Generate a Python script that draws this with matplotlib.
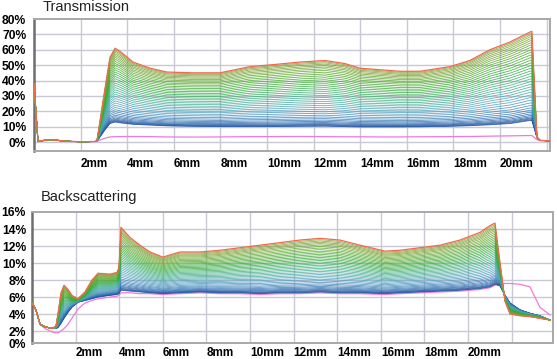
import numpy as np
import matplotlib

matplotlib.use("Agg")
import matplotlib.pyplot as plt
from matplotlib.colors import LinearSegmentedColormap

plt.rcParams["font.family"] = ["Liberation Sans", "DejaVu Sans"]

# ---- Transmission profiles (x in mm, values in %) ----
T_X = [0.0, 0.17, 0.34, 0.6, 0.9, 1.33, 2.0, 2.6, 2.7, 3.05, 3.26, 3.48, 3.69,
       4.25, 4.98, 5.7, 6.82, 7.98, 9.27, 10.04, 11.42, 12.49, 13.35, 13.99,
       14.85, 15.71, 16.57, 17.85, 18.71, 19.57, 20.43, 21.29, 21.37, 21.59,
       21.72, 22.23]
T_TOP = [38, 0.5, 0.8, 1.5, 1.3, 0.5, 0.2, 0.3, 0.5, 35, 55, 61, 59, 52, 48,
         45.5, 45, 45, 49, 50, 52, 53, 51, 48, 47, 46, 46, 49, 53, 60, 65,
         71.5, 72, 3, 1, 0.8]
T_BOT = [38, 0.5, 0.8, 1.5, 1.3, 0.5, 0.2, 0.3, 0.5, 8, 12, 13, 12.5, 11.5,
         11, 10.5, 10.2, 10, 10, 10, 10.2, 10.3, 10, 9.8, 9.8, 9.8, 9.9, 10.2,
         10.6, 11.2, 12, 14, 14, 3, 1, 0.8]
T_PINK = [38, 0.5, 0.8, 1.5, 1.3, 0.5, 0.2, 0.3, 0.5, 2.5, 3.3, 3.5, 3.5, 3.6,
          3.5, 3.3, 3.2, 3.3, 3.5, 3.5, 3.6, 3.5, 3.4, 3.4, 3.3, 3.3, 3.4,
          3.5, 3.6, 3.8, 4.0, 4.2, 4.2, 1.5, 1.0, 0.8]
T_REF = 19  # index of x = 10 mm
# level of each intermediate scan at 10 mm
T_LEVELS = [10.0, 10.3, 10.7, 11.1, 11.6, 12.2, 12.9, 13.7, 14.6, 15.6, 16.7,
            17.9, 19.1, 20.3, 21.5, 22.7, 23.9, 25.1, 26.3, 27.5, 28.7, 29.9,
            31.1, 32.3, 33.5, 34.7, 35.9, 37.1, 38.3, 39.5, 40.7, 41.8, 42.9,
            44.0, 45.0, 46.0, 46.9, 47.8, 48.6, 49.3]

# ---- Backscattering profiles ----
B_X = [0.0, 0.18, 0.37, 0.6, 0.92, 1.1, 1.19, 1.33, 1.47, 1.65, 1.83, 2.11,
       2.43, 2.75, 3.03, 3.58, 3.9, 3.99, 4.08, 4.5, 4.95, 5.41, 6.0, 6.79,
       7.71, 8.62, 9.54, 10.46, 11.38, 12.29, 13.21, 14.13, 15.05, 16.19,
       16.88, 17.8, 18.72, 19.63, 20.55, 21.01, 21.24, 21.47, 21.7, 21.93,
       22.39, 22.84, 23.3, 23.76]
B_TOP = [5.3, 4.5, 2.8, 2.5, 2.3, 2.6, 4.0, 6.5, 7.4, 6.9, 6.2, 5.8, 6.6, 8.0,
         8.8, 8.7, 8.9, 9.5, 14.2, 13.0, 12.1, 11.3, 10.7, 11.3, 11.3, 11.5,
         11.8, 12.1, 12.4, 12.7, 12.9, 12.7, 12.1, 11.4, 11.5, 11.8, 12.1,
         12.7, 13.6, 14.4, 14.7, 10.0, 5.5, 4.0, 3.8, 3.7, 3.5, 3.3]
B_BOT = [5.3, 4.5, 2.8, 2.5, 2.3, 2.3, 2.4, 2.9, 3.5, 4.2, 4.8, 5.4, 5.6, 5.8,
         6.0, 6.2, 6.3, 6.4, 6.8, 6.7, 6.6, 6.5, 6.4, 6.5, 6.6, 6.5, 6.5, 6.4,
         6.5, 6.5, 6.6, 6.5, 6.5, 6.4, 6.5, 6.6, 6.7, 6.8, 7.0, 7.2, 7.5, 7.3,
         6.2, 5.3, 4.5, 4.1, 3.8, 3.3]
B_PINK = [5.3, 4.5, 2.8, 2.3, 1.9, 1.8, 1.8, 2.0, 2.3, 2.8, 3.5, 4.6, 5.3,
          5.6, 5.8, 6.0, 6.1, 6.2, 6.5, 6.5, 6.4, 6.4, 6.3, 6.4, 6.5, 6.4,
          6.4, 6.3, 6.4, 6.4, 6.5, 6.4, 6.4, 6.3, 6.4, 6.5, 6.6, 6.7, 6.9,
          7.1, 7.4, 7.6, 7.6, 7.6, 7.5, 7.2, 4.8, 3.9]
B_REF = 29  # index of x = 12.29 mm
B_LEVELS = [6.5, 6.56, 6.63, 6.7, 6.8, 6.9, 7.02, 7.15, 7.3, 7.45, 7.62, 7.8,
            7.98, 8.16, 8.34, 8.52, 8.7, 8.88, 9.06, 9.24, 9.42, 9.6, 9.78,
            9.96, 10.14, 10.32, 10.5, 10.68, 10.86, 11.04, 11.22, 11.4, 11.58,
            11.76, 11.94, 12.1, 12.25, 12.4, 12.55]

X_LABELS = ["2mm", "4mm", "6mm", "8mm", "10mm", "12mm", "14mm", "16mm",
            "18mm", "20mm"]

CMAP = LinearSegmentedColormap.from_list(
    "scan", ["#184a98", "#2f70b4", "#4f9fbf", "#3fae8a", "#33aa38",
             "#5ea82c", "#8c9c34"])
GRID = "#c9c9d6"


def draw_scans(ax, x, top, bot, pink, ref, levels):
    x = np.array(x)
    top = np.array(top, float)
    bot = np.array(bot, float)
    ax.plot(x, pink, c="#f07ad8", lw=0.9, zorder=3)
    n = len(levels)
    for i, lev in enumerate(levels):
        frac = (lev - bot[ref]) / (top[ref] - bot[ref])
        ax.plot(x, bot + (top - bot) * frac, c=CMAP(i / (n - 1)), lw=0.6,
                alpha=0.85, zorder=3)
    ax.plot(x, top, c="#ee6a50", lw=0.9, zorder=4)


def style(ax, xmax, ylim, yticks, ylabels, ygrid, xpad, ypad):
    ax.set_xlim(0, xmax)
    ax.set_ylim(*ylim)
    ax.set_xticks(range(2, 21, 2))
    ax.set_xticklabels(X_LABELS, ha="left", fontsize=8.5, fontweight="bold")
    ax.set_yticks(yticks)
    ax.set_yticklabels(ylabels, fontsize=8.7, fontweight="bold")
    ax.tick_params(length=0)
    ax.tick_params(axis="x", pad=xpad)
    ax.tick_params(axis="y", pad=ypad)
    for gx in range(2, 23, 2):
        ax.axvline(gx, c=GRID, lw=1.0, zorder=1)
    for gy in ygrid:
        ax.axhline(gy, c=GRID, lw=1.0, zorder=1)
    for side in ("top", "right", "bottom"):
        ax.spines[side].set_color("#a8a8a8")
        ax.spines[side].set_linewidth(1.4)
    ax.spines["left"].set_color("#6e6e6e")
    ax.spines["left"].set_linewidth(1.8)


fig = plt.figure(figsize=(5.57, 3.59), dpi=100)

ax1 = fig.add_axes([34 / 557, 1 - 151 / 359, 516 / 557, 132 / 359])
draw_scans(ax1, T_X, T_TOP, T_BOT, T_PINK, T_REF, T_LEVELS)
style(ax1, 22.15, (-5.85, 80), range(0, 81, 10),
      ["%d%%" % v for v in range(0, 81, 10)], range(0, 71, 10), 5, 5.5)

ax2 = fig.add_axes([32 / 557, 1 - 343 / 359, 521 / 557, 131 / 359])
draw_scans(ax2, B_X, B_TOP, B_BOT, B_PINK, B_REF, B_LEVELS)
style(ax2, 23.9, (0.6, 16), [0.6] + list(range(2, 17, 2)),
      ["%d%%" % v for v in range(0, 17, 2)], range(2, 15, 2), 3, 4.3)

fig.text(43 / 557, 1 - 7 / 359, "Transmission", fontsize=10.5,
         color="#222222", va="center")
fig.text(41 / 557, 1 - 197 / 359, "Backscattering", fontsize=10.5,
         color="#222222", va="center")

fig.savefig("out.png", dpi=100)
